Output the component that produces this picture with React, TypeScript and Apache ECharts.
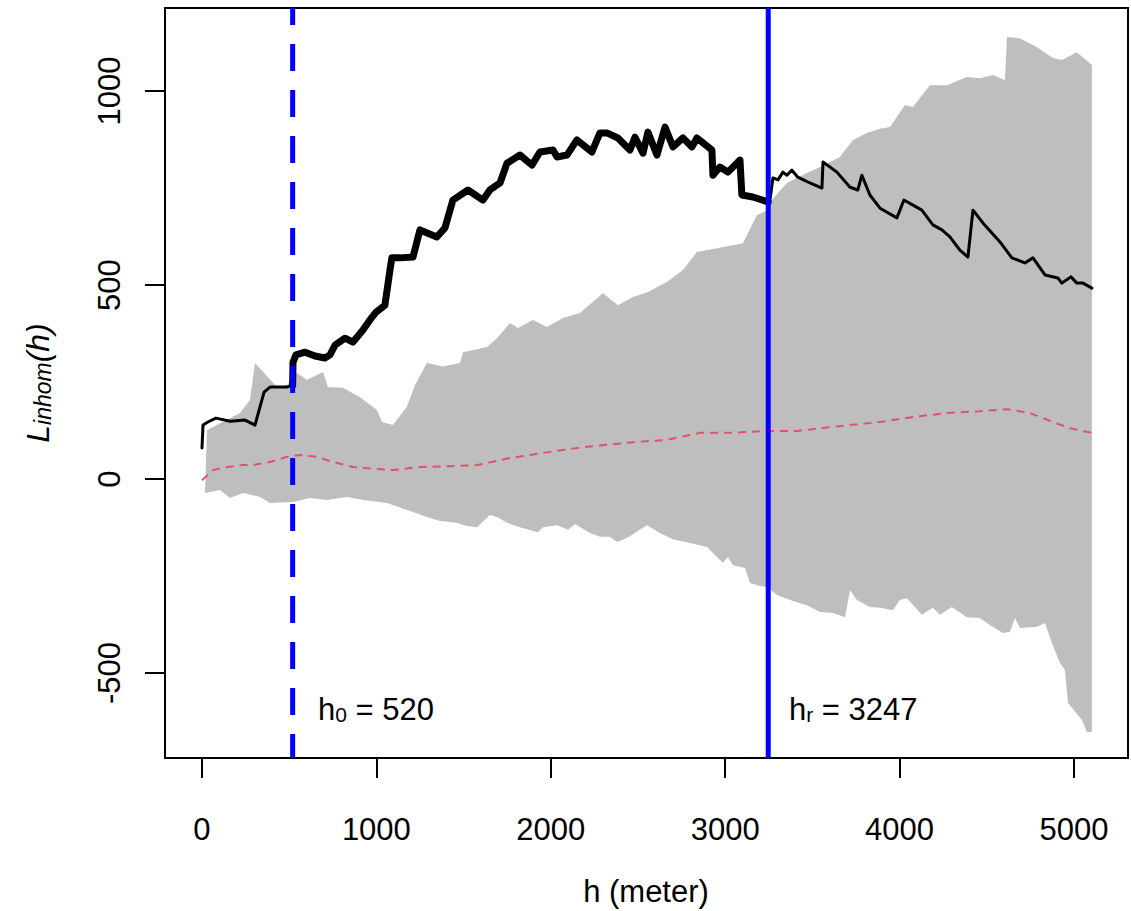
import React, { useEffect, useRef } from "react";
import * as echarts from "echarts";

const H0 = 520;
const HR = 3247;

const xTicks = [0, 1000, 2000, 3000, 4000, 5000];
const yTicks = [-500, 0, 500, 1000];

const obsH = [0, 6, 34, 80, 161, 247, 304, 356, 390, 487, 520, 522, 539, 591, 648, 705, 734, 763, 820, 866, 923, 963, 998, 1049, 1078, 1089, 1135, 1210, 1250, 1347, 1393, 1439, 1525, 1611, 1651, 1709, 1749, 1823, 1892, 1938, 2013, 2036, 2093, 2150, 2236, 2282, 2322, 2385, 2454, 2483, 2529, 2557, 2609, 2655, 2701, 2758, 2810, 2838, 2924, 2930, 2970, 3016, 3085, 3096, 3159, 3247, 3257, 3274, 3303, 3331, 3354, 3383, 3417, 3486, 3555, 3561, 3641, 3716, 3761, 3784, 3830, 3888, 3985, 4025, 4077, 4128, 4191, 4243, 4289, 4346, 4392, 4421, 4478, 4576, 4644, 4719, 4765, 4834, 4908, 4931, 4983, 5017, 5052, 5103];
const obsL = [80, 139, 147, 157, 149, 152, 139, 224, 237, 237, 242, 301, 320, 327, 317, 312, 320, 345, 363, 353, 384, 410, 430, 448, 539, 570, 570, 572, 642, 624, 647, 719, 745, 719, 745, 763, 814, 835, 809, 843, 848, 830, 835, 874, 843, 892, 892, 879, 848, 881, 840, 894, 835, 907, 856, 879, 856, 879, 848, 783, 804, 791, 822, 732, 727, 714, 719, 776, 771, 791, 783, 796, 778, 763, 750, 817, 791, 752, 745, 783, 732, 698, 673, 719, 706, 693, 655, 642, 624, 590, 572, 693, 660, 611, 570, 557, 570, 526, 518, 505, 521, 505, 505, 492];

const envUpH = [29, 63, 218, 275, 304, 430, 487, 545, 602, 694, 722, 808, 906, 1003, 1032, 1095, 1175, 1221, 1290, 1380, 1479, 1497, 1634, 1692, 1766, 1812, 1898, 1978, 2070, 2167, 2299, 2385, 2471, 2557, 2666, 2758, 2838, 2953, 3102, 3182, 3240, 3268, 3354, 3469, 3544, 3658, 3733, 3813, 3888, 3945, 4031, 4077, 4174, 4272, 4386, 4461, 4536, 4604, 4616, 4690, 4788, 4880, 4931, 5017, 5103];
const envUpL = [126, 134, 170, 204, 299, 237, 242, 273, 255, 276, 237, 235, 211, 178, 147, 139, 186, 242, 299, 290, 299, 327, 340, 363, 402, 389, 410, 392, 415, 428, 479, 448, 469, 482, 508, 539, 585, 595, 608, 680, 693, 719, 763, 789, 804, 830, 874, 892, 903, 907, 964, 959, 1015, 1015, 1036, 1033, 1041, 1028, 1139, 1136, 1113, 1085, 1080, 1100, 1067];

const envLoH = [17, 103, 161, 235, 333, 390, 522, 619, 717, 831, 923, 1061, 1210, 1290, 1365, 1462, 1519, 1577, 1651, 1692, 1749, 1823, 1927, 1955, 2036, 2099, 2139, 2225, 2282, 2339, 2380, 2437, 2511, 2552, 2626, 2701, 2798, 2896, 2953, 2987, 3016, 3045, 3114, 3142, 3200, 3240, 3297, 3372, 3469, 3544, 3618, 3687, 3716, 3756, 3830, 3888, 3962, 4002, 4042, 4128, 4191, 4232, 4300, 4386, 4461, 4518, 4593, 4633, 4662, 4690, 4788, 4834, 4874, 4920, 4948, 4966, 5046, 5074, 5103];
const envLoL = [-36, -28, -49, -36, -46, -62, -59, -49, -54, -46, -54, -62, -85, -98, -108, -113, -121, -124, -93, -98, -113, -124, -137, -124, -119, -131, -116, -139, -149, -149, -162, -152, -131, -119, -139, -155, -165, -175, -201, -216, -201, -222, -229, -268, -276, -278, -299, -312, -325, -343, -345, -356, -286, -312, -330, -332, -338, -312, -307, -350, -332, -350, -330, -356, -358, -376, -397, -394, -358, -384, -381, -371, -423, -474, -492, -577, -621, -652, -652];

const theoH = [0, 63, 143, 235, 292, 390, 487, 562, 659, 751, 866, 946, 1095, 1250, 1479, 1577, 1766, 1995, 2185, 2471, 2666, 2855, 3045, 3240, 3412, 3544, 3716, 3888, 4077, 4272, 4461, 4616, 4748, 4880, 4977, 5103];
const theoL = [-3, 23, 31, 36, 36, 44, 57, 62, 57, 44, 31, 28, 23, 31, 34, 36, 54, 70, 82, 95, 101, 119, 119, 124, 124, 131, 139, 147, 160, 170, 175, 180, 170, 147, 131, 119];

const X_MIN = -212;
const X_MAX = 5310;
const Y_MIN = -719;
const Y_MAX = 1214;

const FONT = "'Liberation Sans', Arial, sans-serif";

function pairs(hs: number[], ls: number[], lo: number, hi: number) {
  const out: number[][] = [];
  hs.forEach((h, i) => {
    if (h >= lo && h <= hi) out.push([h, ls[i]]);
  });
  return out;
}

export default function App() {
  const ref = useRef<HTMLDivElement>(null);

  useEffect(() => {
    if (!ref.current) return;
    const chart = echarts.init(ref.current, null, { renderer: "svg" });

    const option: any = {
      animation: false,
      backgroundColor: "#ffffff",
      grid: {
        left: 165,
        right: 3,
        top: 8,
        bottom: 153,
        show: true,
        borderColor: "#000",
        borderWidth: 2,
        backgroundColor: "transparent",
      },
      xAxis: {
        type: "value",
        min: X_MIN,
        max: X_MAX,
        axisLine: { show: false, onZero: false },
        splitLine: { show: false },
        axisTick: {
          show: true,
          length: 20,
          inside: false,
          lineStyle: { color: "#000", width: 2 },
          customValues: xTicks,
        },
        axisLabel: {
          color: "#000",
          fontSize: 31,
          fontFamily: FONT,
          margin: 56,
          customValues: xTicks,
          formatter: (v: number) => String(v),
        },
      },
      yAxis: {
        type: "value",
        min: Y_MIN,
        max: Y_MAX,
        axisLine: { show: false, onZero: false },
        splitLine: { show: false },
        axisTick: {
          show: true,
          length: 20,
          inside: false,
          lineStyle: { color: "#000", width: 2 },
          customValues: yTicks,
        },
        axisLabel: {
          color: "#000",
          fontSize: 31,
          fontFamily: FONT,
          rotate: 90,
          margin: 40,
          customValues: yTicks,
          formatter: (v: number) => String(v),
        },
      },
      series: [
        {
          type: "custom",
          silent: true,
          data: [[0, 0]],
          renderItem: (_params: any, api: any) => {
            const pts: number[][] = [];
            envUpH.forEach((h, i) => pts.push(api.coord([h, envUpL[i]])));
            for (let i = envLoH.length - 1; i >= 0; i--) {
              pts.push(api.coord([envLoH[i], envLoL[i]]));
            }
            return {
              type: "polygon",
              shape: { points: pts },
              style: { fill: "#BEBEBE", stroke: "none" },
            };
          },
          z: 1,
        },
        {
          type: "line",
          data: pairs(theoH, theoL, -1e9, 1e9),
          showSymbol: false,
          symbol: "none",
          lineStyle: { color: "#DF536B", width: 2, type: [8, 6] },
          z: 2,
        },
        {
          type: "line",
          data: pairs(obsH, obsL, -1e9, H0),
          symbol: "none",
          lineStyle: { color: "#000", width: 3, join: "round", cap: "round" },
          z: 3,
        },
        {
          type: "line",
          data: pairs(obsH, obsL, H0, HR),
          symbol: "none",
          lineStyle: { color: "#000", width: 7, join: "round", cap: "round" },
          z: 3,
        },
        {
          type: "line",
          data: pairs(obsH, obsL, HR, 1e9),
          symbol: "none",
          lineStyle: { color: "#000", width: 3, join: "round", cap: "round" },
          z: 3,
        },
        {
          type: "line",
          data: [
            [H0, Y_MIN],
            [H0, Y_MAX],
          ],
          symbol: "none",
          lineStyle: { color: "#0000FF", width: 5, type: [27, 19], dashOffset: 3 },
          z: 4,
        },
        {
          type: "line",
          data: [
            [HR, Y_MIN],
            [HR, Y_MAX],
          ],
          symbol: "none",
          lineStyle: { color: "#0000FF", width: 5 },
          z: 4,
        },
      ],
      graphic: [
        {
          type: "text",
          x: 646,
          y: 891,
          style: {
            text: "h (meter)",
            fontSize: 31,
            fontFamily: FONT,
            fill: "#000",
            align: "center",
            verticalAlign: "middle",
          },
        },
        {
          type: "text",
          x: 22,
          y: 383,
          rotation: Math.PI / 2,
          style: {
            text: "{l|L}{s|inhom}{l|(h)}",
            fontFamily: FONT,
            fill: "#000",
            align: "center",
            verticalAlign: "top",
            rich: {
              l: { fontSize: 32, fontStyle: "italic", fontFamily: FONT, lineHeight: 32, verticalAlign: "top", fill: "#000" },
              s: { fontSize: 23, fontStyle: "italic", fontFamily: FONT, lineHeight: 23, padding: [17, 0, 0, 0], verticalAlign: "bottom", fill: "#000" },
            },
          },
        },
        {
          type: "text",
          x: 318,
          y: 694,
          style: {
            text: "{m|h}{s|0}{m| = 520}",
            fontFamily: FONT,
            fill: "#000",
            align: "left",
            verticalAlign: "top",
            rich: {
              m: { fontSize: 31, fontFamily: FONT, lineHeight: 31, verticalAlign: "top", fill: "#000" },
              s: { fontSize: 21, fontFamily: FONT, lineHeight: 21, padding: [15, 0, 0, 0], verticalAlign: "bottom", fill: "#000" },
            },
          },
        },
        {
          type: "text",
          x: 789,
          y: 694,
          style: {
            text: "{m|h}{s|r}{m| = 3247}",
            fontFamily: FONT,
            fill: "#000",
            align: "left",
            verticalAlign: "top",
            rich: {
              m: { fontSize: 31, fontFamily: FONT, lineHeight: 31, verticalAlign: "top", fill: "#000" },
              s: { fontSize: 21, fontFamily: FONT, lineHeight: 21, padding: [15, 0, 0, 0], verticalAlign: "bottom", fill: "#000" },
            },
          },
        },
      ],
    };

    chart.setOption(option);
    return () => chart.dispose();
  }, []);

  return (
    <div
      ref={ref}
      style={{ position: "fixed", left: 0, top: 0, width: 1131, height: 911, background: "#fff" }}
    />
  );
}
